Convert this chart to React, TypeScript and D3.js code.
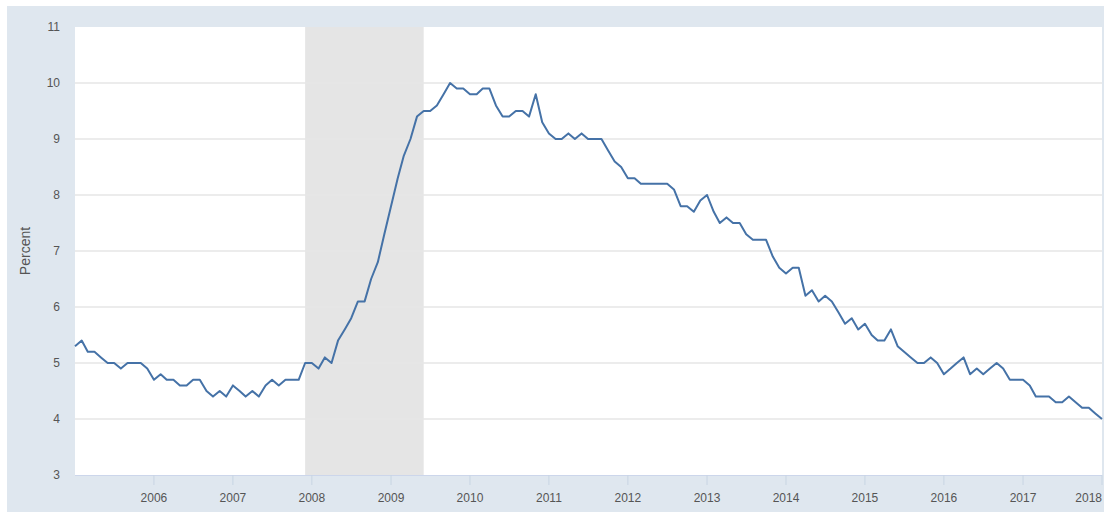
import React from "react";
import * as d3 from "d3";

// Monthly unemployment rate, Jan 2005 - Jan 2018 (percent)
const startYear = 2005;
const rates2005 = [5.3, 5.4, 5.2, 5.2, 5.1, 5.0, 5.0, 4.9, 5.0, 5.0, 5.0, 4.9];
const rates2006 = [4.7, 4.8, 4.7, 4.7, 4.6, 4.6, 4.7, 4.7, 4.5, 4.4, 4.5, 4.4];
const rates2007 = [4.6, 4.5, 4.4, 4.5, 4.4, 4.6, 4.7, 4.6, 4.7, 4.7, 4.7, 5.0];
const rates2008 = [5.0, 4.9, 5.1, 5.0, 5.4, 5.6, 5.8, 6.1, 6.1, 6.5, 6.8, 7.3];
const rates2009 = [7.8, 8.3, 8.7, 9.0, 9.4, 9.5, 9.5, 9.6, 9.8, 10.0, 9.9, 9.9];
const rates2010 = [9.8, 9.8, 9.9, 9.9, 9.6, 9.4, 9.4, 9.5, 9.5, 9.4, 9.8, 9.3];
const rates2011 = [9.1, 9.0, 9.0, 9.1, 9.0, 9.1, 9.0, 9.0, 9.0, 8.8, 8.6, 8.5];
const rates2012 = [8.3, 8.3, 8.2, 8.2, 8.2, 8.2, 8.2, 8.1, 7.8, 7.8, 7.7, 7.9];
const rates2013 = [8.0, 7.7, 7.5, 7.6, 7.5, 7.5, 7.3, 7.2, 7.2, 7.2, 6.9, 6.7];
const rates2014 = [6.6, 6.7, 6.7, 6.2, 6.3, 6.1, 6.2, 6.1, 5.9, 5.7, 5.8, 5.6];
const rates2015 = [5.7, 5.5, 5.4, 5.4, 5.6, 5.3, 5.2, 5.1, 5.0, 5.0, 5.1, 5.0];
const rates2016 = [4.8, 4.9, 5.0, 5.1, 4.8, 4.9, 4.8, 4.9, 5.0, 4.9, 4.7, 4.7];
const rates2017 = [4.7, 4.6, 4.4, 4.4, 4.4, 4.3, 4.3, 4.4, 4.3, 4.2, 4.2, 4.1];
const rates2018 = [4.0];

const rates = [
  ...rates2005, ...rates2006, ...rates2007, ...rates2008, ...rates2009,
  ...rates2010, ...rates2011, ...rates2012, ...rates2013, ...rates2014,
  ...rates2015, ...rates2016, ...rates2017, ...rates2018,
];

const yearTicks = [2006, 2007, 2008, 2009, 2010, 2011, 2012, 2013, 2014, 2015, 2016, 2017, 2018];
const yTicks = [3, 4, 5, 6, 7, 8, 9, 10, 11];
const recession = [new Date(2007, 11, 1), new Date(2009, 5, 1)];

const W = 1105;
const H = 517;
const plot = { left: 75, right: 1102, top: 27, bottom: 475 };
const font = "'Liberation Sans Narrow', 'Arial Narrow', 'Liberation Sans', Arial, sans-serif";

export default function App() {
  const data = rates.map((v, i) => ({ date: new Date(startYear, i, 1), value: v }));

  const x = d3
    .scaleTime()
    .domain([new Date(2005, 0, 1), new Date(2018, 0, 1)])
    .range([plot.left, plot.right]);
  const y = d3.scaleLinear().domain([3, 11]).range([plot.bottom, plot.top]);

  const line = d3
    .line<{ date: Date; value: number }>()
    .x((d) => x(d.date))
    .y((d) => y(d.value));

  return (
    <svg
      width={W}
      height={H}
      style={{ position: "absolute", left: 0, top: 0, display: "block" }}
    >
      <rect x={0} y={0} width={W} height={H} fill="#fff" />
      {/* outer panel */}
      <rect x={7} y={6} width={1097} height={506} fill="#dfe7ef" />
      {/* plot area */}
      <rect
        x={plot.left}
        y={plot.top}
        width={plot.right - plot.left}
        height={plot.bottom - plot.top}
        fill="#fff"
      />
      {/* recession band */}
      <rect
        x={x(recession[0])}
        y={plot.top}
        width={x(recession[1]) - x(recession[0])}
        height={plot.bottom - plot.top}
        fill="#e5e5e5"
      />
      {/* grid */}
      {yTicks.slice(1, -1).map((t) => (
        <line
          key={t}
          x1={plot.left}
          x2={plot.right}
          y1={y(t)}
          y2={y(t)}
          stroke="#e6e6e6"
          strokeWidth={1.5}
        />
      ))}
      {/* x axis line + ticks */}
      <line
        x1={plot.left}
        x2={plot.right}
        y1={plot.bottom + 0.5}
        y2={plot.bottom + 0.5}
        stroke="#ccd6eb"
        strokeWidth={1}
      />
      {yearTicks.map((yr) => {
        const xp = x(new Date(yr, 0, 1));
        return (
          <g key={yr}>
            <line x1={xp} x2={xp} y1={plot.bottom} y2={plot.bottom + 10} stroke="#c8d5e3" />
            <text
              x={xp}
              y={502}
              textAnchor={yr === 2018 ? "end" : "middle"}
              fontFamily={font}
              fontSize={12}
              fill="#555"
            >
              {yr}
            </text>
          </g>
        );
      })}
      {yTicks.map((t) => (
        <text
          key={t}
          x={60}
          y={y(t) + 4}
          textAnchor="end"
          fontFamily={font}
          fontSize={12}
          fill="#555"
        >
          {t}
        </text>
      ))}
      <text
        transform={`translate(30, ${(plot.top + plot.bottom) / 2}) rotate(-90)`}
        textAnchor="middle"
        fontFamily="'Liberation Sans', Arial, sans-serif"
        fontSize={14}
        fill="#555"
      >
        Percent
      </text>
      <path
        d={line(data) ?? ""}
        fill="none"
        stroke="#4572a7"
        strokeWidth={2}
        strokeLinejoin="round"
      />
    </svg>
  );
}
